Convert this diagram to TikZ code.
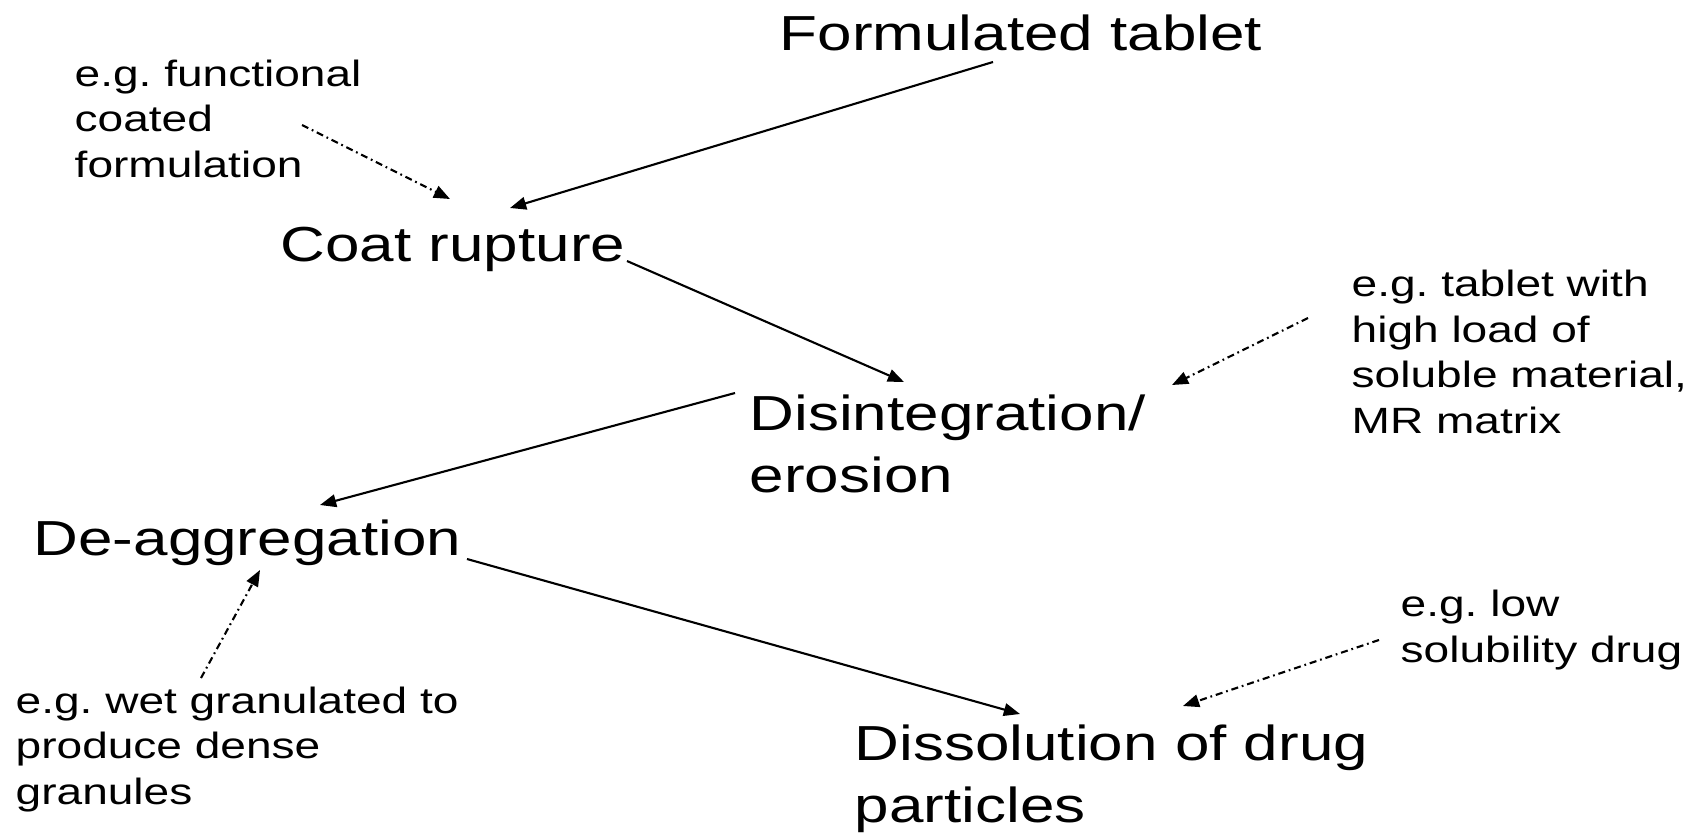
\documentclass[tikz,border=0pt]{standalone}
\usepackage{fontspec}
\setmainfont[FakeStretch=1.26]{Liberation Sans}
\usepackage{tikz}
\usetikzlibrary{arrows.meta, calc}
\frenchspacing

\begin{document}
\begin{tikzpicture}[
          stage/.style={anchor=base west, inner sep=0pt, align=left,
                        font=\fontsize{14pt}{17.4pt}\selectfont},
          note/.style={anchor=base west, inner sep=0pt, align=left,
                       font=\fontsize{10.4pt}{12.9pt}\selectfont},
          arr/.style={-{Triangle[length=4.6pt, width=3.6pt]}, line width=0.6pt},
          hint/.style={arr, dash pattern=on 2pt off 1.1pt on 0.5pt off 1.1pt}
        ]
        \useasboundingbox (0,0) rectangle (17.02,8.33);

        % main sequence (multi-line nodes sit on their last line)
        \node[stage] (tablet) at (7.79, 7.83) {Formulated tablet};
        \node[stage] (coat)   at (2.80, 5.72) {Coat rupture};
        \node[stage] (disint) at (7.49, 3.41) {Disintegration/\\erosion};
        \node[stage] (deagg)  at (0.33, 2.78) {De-aggregation};
        \node[stage] (dissol) at (8.54, 0.11) {Dissolution of drug\\particles};

        % examples
        \node[note] (exfunc) at (0.74, 6.56)
              {e.g. functional\\coated\\formulation};
        \node[note] (exload) at (13.51, 4.00)
              {e.g. tablet with\\high load of\\soluble material,\\MR matrix};
        \node[note] (exwet)  at (0.15, 0.29)
              {e.g. wet granulated to\\produce dense\\granules};
        \node[note] (exlow)  at (14.00, 1.71)
              {e.g. low\\solubility drug};

        \draw[arr] ($(tablet.base west)+(2.14,-0.12)$) -- ($(coat.base west)+(2.30,0.53)$);
        \draw[arr] ($(coat.base west)+(3.47,0)$) -- ($(disint.base west)+(1.55,1.10)$);
        \draw[arr] ($(disint.base west)+(-0.14,0.99)$) -- ($(deagg.base west)+(2.87,0.50)$);
        \draw[arr] ($(deagg.base west)+(4.34,-0.04)$) -- ($(dissol.base west)+(1.66,1.08)$);

        \draw[hint] ($(exfunc.base west)+(2.28,0.52)$) -- ($(coat.base west)+(1.70,0.62)$);
        \draw[hint] ($(exload.base west)+(-0.43,1.15)$) -- ($(disint.base west)+(4.23,1.07)$);
        \draw[hint] ($(exwet.base west)+(1.86,1.26)$) -- ($(deagg.base west)+(2.27,-0.15)$);
        \draw[hint] ($(exlow.base west)+(-0.21,0.22)$) -- ($(dissol.base west)+(3.29,1.16)$);
      \end{tikzpicture}
\end{document}
